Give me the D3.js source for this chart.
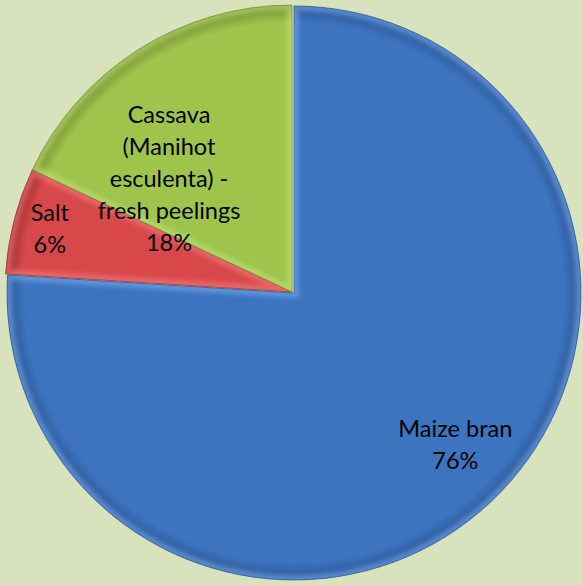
<!DOCTYPE html>
<html>
<head>
<meta charset="utf-8">
<script src="https://cdn.jsdelivr.net/npm/d3@7"></script>
<style>
  html, body { margin: 0; padding: 0; background: #d8e2bd; }
  svg { display: block; }
  text { font-family: Lato, "Open Sans", sans-serif; fill: #000; }
</style>
</head>
<body>
<div id="chart"></div>
<script>
'use strict'

// data
const categories = ['Maize bran', 'Salt', 'Cassava (Manihot esculenta) - fresh peelings']
const values = [76, 6, 18]
const labelLines = [
  ['Maize bran', '76%'],
  ['Salt', '6%'],
  ['Cassava', '(Manihot', 'esculenta) -', 'fresh peelings', '18%']
]

const colors = ['#3d74bf', '#d8484b', '#9fc44c']
const lightColors = ['#74a8ec', '#f07a7a', '#c0df78']
const darkColors = ['#2a5593', '#9c2c2e', '#6f8c2e']

const width = 583
const height = 585
const cx = 292
const cy = 292
const radius = 287

const chart_it = function(){
  const svg = d3.select('#chart')
    .append('svg')
    .attr('width', width)
    .attr('height', height)

  svg.append('rect')
    .attr('width', width)
    .attr('height', height)
    .attr('fill', '#d8e2bd')

  const defs = svg.append('defs')
  defs.append('filter')
    .attr('id', 'soft')
    .append('feGaussianBlur')
    .attr('stdDeviation', 2)

  categories.forEach((c, i) => {
    const gr = defs.append('radialGradient')
      .attr('id', 'grad' + i)
      .attr('gradientUnits', 'userSpaceOnUse')
      .attr('cx', 0).attr('cy', 0).attr('r', radius)
    gr.append('stop').attr('offset', '0%').attr('stop-color', colors[i])
    gr.append('stop').attr('offset', '94%').attr('stop-color', colors[i])
    gr.append('stop').attr('offset', '100%').attr('stop-color', darkColors[i])
  })

  const g = svg.append('g')
    .attr('transform', 'translate(' + cx + ',' + cy + ')')

  const pie = d3.pie()
    .value(d => d)
    .sort(null)

  const arcs = pie(values)

  const arc = d3.arc()
    .innerRadius(0)
    .outerRadius(radius)

  arcs.forEach((d, i) => {
    defs.append('clipPath')
      .attr('id', 'clip' + i)
      .append('path')
      .attr('d', arc(d))
  })

  const slices = g.selectAll('g.slice')
    .data(arcs)
    .enter()
    .append('g')
    .attr('class', 'slice')
    // the big slice sits a little apart from the others
    .attr('transform', (d, i) => i === 0 ? 'translate(2,1)' : null)

  slices.append('path')
    .attr('d', arc)
    .attr('fill', (d, i) => 'url(#grad' + i + ')')

  // bevel: soft light band along the inside of each edge
  slices.append('path')
    .attr('d', arc)
    .attr('clip-path', (d, i) => 'url(#clip' + i + ')')
    .attr('fill', 'none')
    .attr('stroke', (d, i) => lightColors[i])
    .attr('stroke-width', 10)
    .attr('stroke-opacity', 0.6)
    .attr('filter', 'url(#soft)')

  slices.append('path')
    .attr('d', arc)
    .attr('fill', 'none')
    .attr('stroke', (d, i) => darkColors[i])
    .attr('stroke-width', 1)
    .attr('stroke-opacity', 0.7)

  // labels
  const labelRadius = [224, 248, 168]
  const labelNudge = [[10, -9], [-2, 0], [-33, 30]]
  const lineH = 32

  g.selectAll('text.lbl')
    .data(arcs)
    .enter()
    .append('text')
    .attr('class', 'lbl')
    .attr('text-anchor', 'middle')
    .attr('font-size', 23.5)
    .each(function(d, i) {
      const la = d3.arc().innerRadius(labelRadius[i]).outerRadius(labelRadius[i])
      const c = la.centroid(d)
      const x = c[0] + labelNudge[i][0]
      const y = c[1] + labelNudge[i][1]
      const lines = labelLines[i]
      const top = y - (lines.length - 1) * lineH / 2 + 7
      lines.forEach((t, k) => {
        d3.select(this).append('tspan')
          .attr('x', x)
          .attr('y', top + k * lineH)
          .text(t)
      })
    })
}

chart_it()
</script>
</body>
</html>
